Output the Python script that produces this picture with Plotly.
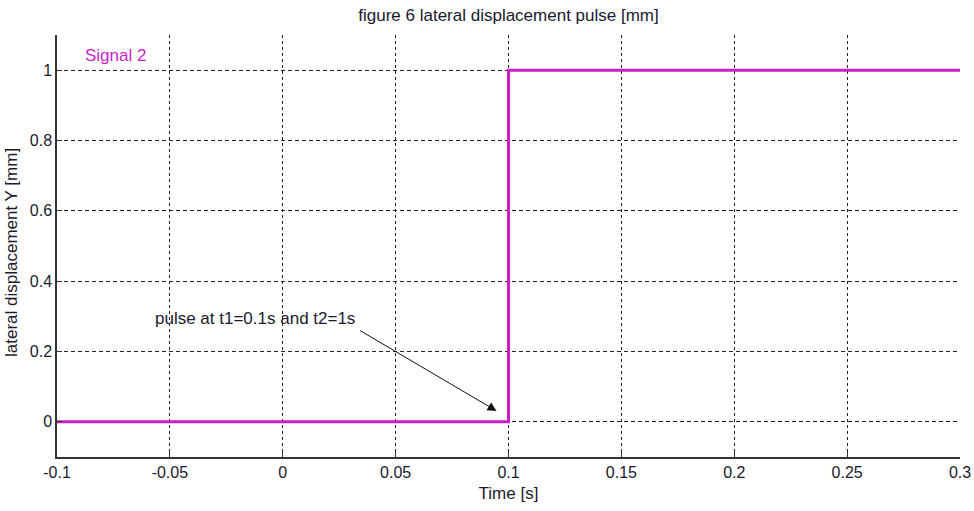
import plotly.graph_objects as go

# data
time_s = [-0.1, 0.1, 0.1, 0.3]
displacement = [0, 0, 1, 1]
x_ticks = [-0.1, -0.05, 0, 0.05, 0.1, 0.15, 0.2, 0.25, 0.3]
x_tick_labels = ["-0.1", "-0.05", "0", "0.05", "0.1", "0.15", "0.2", "0.25", "0.3"]
y_ticks = [0, 0.2, 0.4, 0.6, 0.8, 1]
y_tick_labels = ["0", "0.2", "0.4", "0.6", "0.8", "1"]

FONT = "Liberation Sans, Arial, sans-serif"
TXT = "#1a1a2e"
MAG = "#c81ec8"

W, H = 974, 511
ML, MR, MT, MB = 57, 14, 35, 54
PW, PH = W - ML - MR, H - MT - MB

fig = go.Figure()
fig.add_trace(go.Scatter(x=time_s, y=displacement, mode="lines",
                         line=dict(color=MAG, width=3), showlegend=False,
                         hoverinfo="skip"))

fig.update_layout(
    width=W, height=H,
    margin=dict(l=ML, r=MR, t=MT, b=MB, autoexpand=False),
    paper_bgcolor="white", plot_bgcolor="white",
    font=dict(family=FONT, size=16, color=TXT),
    title=dict(text="figure 6 lateral displacement pulse [mm]", x=0.5, xref="paper",
               xanchor="center", y=1 - 15 / H, yref="container", yanchor="middle",
               font=dict(size=17, color=TXT)),
)
fig.update_xaxes(range=[-0.1, 0.3], tickvals=x_ticks, ticktext=x_tick_labels,
                 automargin=False,
                 showgrid=True, gridcolor="#222", griddash="3px,3px", gridwidth=1,
                 zeroline=False, showline=True, linecolor="#333", linewidth=1.5,
                 ticks="inside", ticklen=5, tickcolor="#333",
                 title=dict(text="Time [s]", standoff=7, font=dict(size=17)))
fig.update_yaxes(range=[-0.1, 1.1], tickvals=y_ticks, ticktext=y_tick_labels,
                 automargin=False,
                 showgrid=True, gridcolor="#222", griddash="4px,3px", gridwidth=1,
                 zeroline=False, showline=True, linecolor="#333", linewidth=1.5,
                 ticks="inside", ticklen=5, tickcolor="#333")

# y axis label at the far left edge
fig.add_annotation(text="lateral displacement Y [mm]", xref="paper", yref="paper",
                   x=(11 - ML) / PW, y=1 - (253 - MT) / PH, xanchor="center", yanchor="middle",
                   textangle=-90, showarrow=False, font=dict(size=17, color=TXT))

fig.add_annotation(text="Signal 2", xref="paper", yref="paper", x=26 / PW, y=1 - 20 / PH,
                   xanchor="left", yanchor="middle", showarrow=False,
                   font=dict(size=17, color=MAG))

fig.add_annotation(text="pulse at t1=0.1s and t2=1s", x=-0.0124, y=0.293,
                   xref="x", yref="y", showarrow=False, font=dict(size=17, color=TXT))
fig.add_annotation(text="", x=0.0947, y=0.031, ax=0.0336, ay=0.262,
                   xref="x", yref="y", axref="x", ayref="y", showarrow=True,
                   arrowhead=2, arrowsize=1.8, arrowwidth=1, arrowcolor="#111")

fig.write_html("out.html", config={"displayModeBar": False},
               post_script="document.body.style.margin='0';document.body.style.overflow='hidden';")
